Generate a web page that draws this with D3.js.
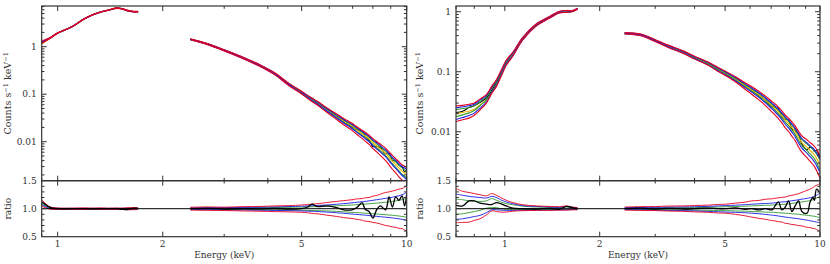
<!DOCTYPE html>
<html>
<head>
<meta charset="utf-8">
<script src="https://cdn.jsdelivr.net/npm/d3@7"></script>
<style>
  body { margin: 0; background: #fff; }
  svg { display: block; font-family: "DejaVu Serif", serif; }
</style>
</head>
<body>
<svg id="chart" width="830" height="264"></svg>
<script>
// ---------------- data ----------------
var xMajor = [1, 2, 5, 10];
var ratioLabels = [0.5, 1.0, 1.5];

// left panel, low energy band
var leftLoE       = [0.9, 0.92, 0.94, 0.96, 1.0, 1.1, 1.19, 1.26, 1.33, 1.4, 1.48, 1.53, 1.58, 1.65, 1.7];
var leftLoModel   = [1.12, 1.27, 1.42, 1.58, 1.94, 2.64, 3.83, 4.7, 5.38, 5.9, 6.5, 6.3, 5.8, 5.46, 5.46];
var leftLoRatio   = [1.12, 1.08, 1.04, 1.015, 1.0, 1.0, 1.0, 0.998, 1.0, 1.002, 1.0, 0.99, 0.985, 1.01, 1.005];
var leftLoRedUp   = [1.16, 1.1, 1.05, 1.025, 1.012, 1.01, 1.014, 1.01, 1.013, 1.009, 1.012, 1.01, 1.016, 1.02, 1.015];
var leftLoBlueUp  = [1.13, 1.08, 1.04, 1.018, 1.008, 1.006, 1.007, 1.006, 1.007, 1.006, 1.007, 1.006, 1.008, 1.01, 1.01];
var leftLoGreenUp = [1.11, 1.07, 1.035, 1.012, 1.005, 1.004, 1.004, 1.004, 1.004, 1.004, 1.004, 1.004, 1.005, 1.006, 1.006];
var leftLoGreenLo = [1.09, 1.05, 1.02, 1.0, 0.995, 0.996, 0.996, 0.996, 0.996, 0.996, 0.996, 0.996, 0.995, 0.994, 0.994];
var leftLoBlueLo  = [1.07, 1.04, 1.01, 0.995, 0.992, 0.994, 0.993, 0.994, 0.993, 0.994, 0.993, 0.994, 0.992, 0.99, 0.99];
var leftLoRedLo   = [1.05, 1.02, 1.0, 0.99, 0.988, 0.99, 0.987, 0.991, 0.988, 0.99, 0.987, 0.99, 0.982, 0.982, 0.985];

// left panel, high energy band
var leftHiE       = [2.4, 2.7, 3.0, 3.4, 3.8, 4.2, 4.6, 5.0, 5.2, 5.36, 5.53, 5.9, 6.3, 6.6, 6.97, 7.2, 7.45, 7.6, 7.8, 8.0, 8.2, 8.4, 8.7, 8.9, 9.1, 9.3, 9.5, 9.7, 9.86, 10];
var leftHiModel   = [1.43, 1.12, 0.84, 0.58, 0.40, 0.266, 0.16, 0.108, 0.088, 0.076, 0.066, 0.047, 0.034, 0.027, 0.021, 0.0175, 0.0148, 0.0132, 0.0114, 0.0095, 0.0082, 0.0071, 0.0057, 0.0047, 0.0039, 0.0033, 0.0028, 0.0024, 0.0022, 0.0020];
var leftHiRatio   = [1.0, 1.005, 0.995, 1.003, 0.996, 1.004, 0.995, 1.0, 1.03, 1.08, 1.04, 1.05, 1.02, 0.98, 0.98, 1.02, 1.11, 0.99, 0.95, 0.83, 0.98, 1.05, 0.98, 1.21, 1.03, 1.21, 1.15, 1.23, 1.05, 1.27];
var leftHiRedUp   = [1.025, 1.032, 1.027, 1.037, 1.04, 1.05, 1.055, 1.066, 1.075, 1.082, 1.088, 1.11, 1.13, 1.145, 1.16, 1.175, 1.18, 1.195, 1.2, 1.225, 1.235, 1.26, 1.29, 1.3, 1.315, 1.33, 1.35, 1.36, 1.385, 1.42];
var leftHiBlueUp  = [1.015, 1.018, 1.02, 1.023, 1.027, 1.032, 1.038, 1.045, 1.05, 1.054, 1.058, 1.067, 1.08, 1.09, 1.105, 1.115, 1.125, 1.13, 1.14, 1.15, 1.16, 1.17, 1.185, 1.195, 1.205, 1.22, 1.23, 1.25, 1.27, 1.30];
var leftHiGreenUp = [1.01, 1.011, 1.012, 1.015, 1.018, 1.021, 1.025, 1.03, 1.033, 1.035, 1.038, 1.044, 1.052, 1.058, 1.066, 1.072, 1.078, 1.082, 1.088, 1.095, 1.1, 1.106, 1.115, 1.122, 1.13, 1.14, 1.15, 1.16, 1.175, 1.19];
var leftHiGreenLo = [0.99, 0.989, 0.988, 0.985, 0.982, 0.979, 0.976, 0.972, 0.97, 0.968, 0.965, 0.96, 0.952, 0.945, 0.935, 0.93, 0.924, 0.92, 0.915, 0.91, 0.905, 0.9, 0.893, 0.888, 0.882, 0.876, 0.87, 0.862, 0.855, 0.845];
var leftHiBlueLo  = [0.985, 0.983, 0.98, 0.977, 0.973, 0.969, 0.965, 0.96, 0.956, 0.953, 0.95, 0.94, 0.928, 0.918, 0.905, 0.897, 0.89, 0.885, 0.877, 0.87, 0.863, 0.857, 0.848, 0.842, 0.835, 0.828, 0.82, 0.81, 0.8, 0.79];
var leftHiRedLo   = [0.975, 0.97, 0.968, 0.96, 0.955, 0.948, 0.943, 0.935, 0.928, 0.915, 0.91, 0.885, 0.862, 0.842, 0.825, 0.81, 0.795, 0.778, 0.772, 0.755, 0.745, 0.728, 0.7, 0.69, 0.675, 0.668, 0.65, 0.645, 0.62, 0.6];

// right panel, low energy band
var rightLoE       = [0.7, 0.735, 0.77, 0.8, 0.834, 0.875, 0.908, 0.941, 0.97, 1.01, 1.06, 1.14, 1.26, 1.39, 1.49, 1.57, 1.64, 1.7];
var rightLoModel   = [0.0198, 0.021, 0.0222, 0.0238, 0.028, 0.034, 0.045, 0.06, 0.085, 0.135, 0.19, 0.35, 0.60, 0.81, 0.98, 1.0, 1.02, 1.12];
var rightLoRatio   = [1.06, 1.05, 1.14, 1.14, 1.1, 1.08, 1.075, 1.11, 1.09, 1.05, 1.01, 1.0, 0.995, 1.005, 0.99, 1.04, 1.02, 1.0];
var rightLoRedUp   = [1.36, 1.31, 1.29, 1.27, 1.25, 1.23, 1.27, 1.24, 1.2, 1.15, 1.11, 1.07, 1.05, 1.04, 1.035, 1.05, 1.03, 1.02];
var rightLoBlueUp  = [1.26, 1.24, 1.22, 1.21, 1.2, 1.19, 1.22, 1.2, 1.16, 1.12, 1.09, 1.055, 1.04, 1.03, 1.025, 1.04, 1.02, 1.015];
var rightLoGreenUp = [1.17, 1.16, 1.14, 1.135, 1.13, 1.14, 1.18, 1.15, 1.12, 1.09, 1.07, 1.045, 1.03, 1.025, 1.02, 1.03, 1.015, 1.01];
var rightLoGreenLo = [0.9, 0.91, 0.93, 0.95, 0.97, 1.01, 1.02, 1.02, 1.0, 0.99, 0.985, 0.985, 0.985, 0.985, 0.99, 0.99, 0.99, 0.99];
var rightLoBlueLo  = [0.81, 0.82, 0.84, 0.86, 0.88, 0.93, 0.98, 0.98, 0.975, 0.97, 0.97, 0.975, 0.975, 0.975, 0.98, 0.98, 0.985, 0.985];
var rightLoRedLo   = [0.75, 0.755, 0.76, 0.79, 0.82, 0.89, 0.96, 0.95, 0.94, 0.94, 0.955, 0.965, 0.97, 0.97, 0.975, 0.975, 0.98, 0.98];

// right panel, high energy band
var rightHiE       = [2.4, 2.7, 3.0, 3.3, 3.7, 4.0, 4.4, 4.77, 5.0, 5.4, 5.8, 6.07, 6.4, 6.7, 7.05, 7.2, 7.38, 7.57, 7.76, 7.95, 8.14, 8.34, 8.55, 8.76, 9.1, 9.3, 9.5, 9.6, 9.75, 10];
var rightHiModel   = [0.436, 0.41, 0.33, 0.265, 0.21, 0.172, 0.138, 0.108, 0.095, 0.075, 0.058, 0.0497, 0.041, 0.034, 0.027, 0.0245, 0.0215, 0.0185, 0.0157, 0.0138, 0.0118, 0.0100, 0.0080, 0.0066, 0.0055, 0.0049, 0.0044, 0.0041, 0.0036, 0.0028];
var rightHiRatio   = [1.0, 1.01, 0.995, 1.005, 0.995, 1.0, 1.01, 1.0, 1.0, 1.015, 0.99, 1.0, 0.98, 1.0, 0.98, 1.05, 1.12, 0.98, 1.03, 1.14, 0.95, 1.05, 1.14, 0.95, 0.92, 1.12, 1.2, 1.15, 1.35, 1.28];
var rightHiRedUp   = [1.03, 1.037, 1.038, 1.047, 1.05, 1.057, 1.063, 1.077, 1.08, 1.1, 1.118, 1.14, 1.148, 1.168, 1.178, 1.187, 1.193, 1.203, 1.208, 1.228, 1.238, 1.252, 1.268, 1.292, 1.328, 1.352, 1.378, 1.4, 1.418, 1.45];
var rightHiBlueUp  = [1.02, 1.022, 1.025, 1.028, 1.032, 1.035, 1.042, 1.05, 1.055, 1.063, 1.072, 1.08, 1.087, 1.093, 1.1, 1.105, 1.112, 1.12, 1.125, 1.133, 1.142, 1.15, 1.16, 1.17, 1.185, 1.195, 1.21, 1.22, 1.24, 1.28];
var rightHiGreenUp = [1.01, 1.012, 1.015, 1.017, 1.019, 1.02, 1.025, 1.031, 1.035, 1.04, 1.045, 1.05, 1.055, 1.06, 1.065, 1.068, 1.072, 1.076, 1.08, 1.087, 1.095, 1.103, 1.11, 1.12, 1.135, 1.145, 1.16, 1.17, 1.19, 1.22];
var rightHiGreenLo = [0.99, 0.988, 0.985, 0.982, 0.978, 0.975, 0.971, 0.967, 0.965, 0.96, 0.955, 0.95, 0.945, 0.94, 0.935, 0.932, 0.928, 0.924, 0.92, 0.915, 0.91, 0.905, 0.9, 0.893, 0.882, 0.875, 0.868, 0.864, 0.857, 0.84];
var rightHiBlueLo  = [0.985, 0.98, 0.975, 0.97, 0.965, 0.96, 0.952, 0.945, 0.94, 0.935, 0.927, 0.92, 0.91, 0.898, 0.885, 0.878, 0.87, 0.86, 0.85, 0.843, 0.835, 0.828, 0.82, 0.81, 0.795, 0.785, 0.775, 0.77, 0.762, 0.75];
var rightHiRedLo   = [0.975, 0.968, 0.966, 0.958, 0.953, 0.943, 0.936, 0.923, 0.92, 0.898, 0.872, 0.85, 0.828, 0.812, 0.788, 0.782, 0.768, 0.762, 0.738, 0.732, 0.718, 0.712, 0.698, 0.692, 0.668, 0.662, 0.648, 0.646, 0.628, 0.6];

// ---------------- layout / style ----------------
var svg = d3.select("#chart"),
	TOP_T = 6, TOP_B = 180.7, RAT_B = 236.7,
	FRAME = "#333", TXT = "#333";

var col = {red: "#e6001e", blue: "#1c1ce8", green: "#2f9a2f", yellow: "#f0b400", black: "#000"};

function seg(E, model, ratio, rU, bU, gU, gL, bL, rL) {
	return {E: E, model: model, ratio: ratio,
		env: [["green", gU], ["green", gL], ["blue", bU], ["blue", bL], ["red", rU], ["red", rL]]};
}

var panels = [
	{id: "L", x0: 41.7, x1: 406.7, xDomain: [0.9, 10], yDomain: [0.00151, 7.19],
		segs: [seg(leftLoE, leftLoModel, leftLoRatio, leftLoRedUp, leftLoBlueUp, leftLoGreenUp, leftLoGreenLo, leftLoBlueLo, leftLoRedLo),
			seg(leftHiE, leftHiModel, leftHiRatio, leftHiRedUp, leftHiBlueUp, leftHiGreenUp, leftHiGreenLo, leftHiBlueLo, leftHiRedLo)],
		labelX: 8},
	{id: "R", x0: 456, x1: 820, xDomain: [0.7, 10], yDomain: [0.00153, 1.245],
		segs: [seg(rightLoE, rightLoModel, rightLoRatio, rightLoRedUp, rightLoBlueUp, rightLoGreenUp, rightLoGreenLo, rightLoBlueLo, rightLoRedLo),
			seg(rightHiE, rightHiModel, rightHiRatio, rightHiRedUp, rightHiBlueUp, rightHiGreenUp, rightHiGreenLo, rightHiBlueLo, rightHiRedLo)],
		labelX: 420}
];

function isDecade(v) {
	var l = Math.log10(v);
	return Math.abs(l - Math.round(l)) < 1e-6;
}

function drawPanel(p) {
	var g = svg.append("g");
	var x = d3.scaleLog().domain(p.xDomain).range([p.x0, p.x1]),
		y = d3.scaleLog().domain(p.yDomain).range([TOP_B, TOP_T]),
		yr = d3.scaleLinear().domain([0.5, 1.5]).range([RAT_B, TOP_B]);

	var defs = g.append("defs");
	defs.append("clipPath").attr("id", "ct" + p.id).append("rect")
		.attr("x", p.x0).attr("y", TOP_T).attr("width", p.x1 - p.x0).attr("height", TOP_B - TOP_T);
	defs.append("clipPath").attr("id", "cr" + p.id).append("rect")
		.attr("x", p.x0).attr("y", TOP_B).attr("width", p.x1 - p.x0).attr("height", RAT_B - TOP_B);

	var smooth = d3.curveCatmullRom.alpha(0.5);

	//------------ top panel: spectra
	var gTop = g.append("g").attr("clip-path", "url(#ct" + p.id + ")").attr("fill", "none");
	var tline = d3.line().x(function(d) { return x(d[0]); }).y(function(d) { return y(d[1]); }).curve(smooth);
	p.segs.forEach(function(s) {
		var layers = [["black", s.ratio], ["yellow", null]].concat(s.env);
		layers.forEach(function(l) {
			var pts = s.E.map(function(e, i) { return [e, s.model[i] * (l[1] ? l[1][i] : 1)]; });
			gTop.append("path").attr("d", tline(pts))
				.attr("stroke", col[l[0]]).attr("stroke-width", 1.1).attr("stroke-linejoin", "round");
		});
	});

	//------------ ratio panel
	var gRat = g.append("g").attr("clip-path", "url(#cr" + p.id + ")").attr("fill", "none");
	var rline = d3.line().x(function(d) { return x(d[0]); }).y(function(d) { return yr(d[1]); }).curve(smooth);
	p.segs.forEach(function(s) {
		s.env.forEach(function(l) {
			gRat.append("path").attr("d", rline(s.E.map(function(e, i) { return [e, l[1][i]]; })))
				.attr("stroke", col[l[0]]).attr("stroke-width", 0.9);
		});
	});
	gRat.append("line").attr("x1", p.x0).attr("x2", p.x1).attr("y1", yr(1)).attr("y2", yr(1))
		.attr("stroke", "#000").attr("stroke-width", 1);
	p.segs.forEach(function(s) {
		gRat.append("path").attr("d", rline(s.E.map(function(e, i) { return [e, s.ratio[i]]; })))
			.attr("stroke", "#000").attr("stroke-width", 1.3).attr("stroke-linejoin", "round");
	});

	//------------ frames & ticks
	var gAx = g.append("g").attr("stroke", FRAME).attr("fill", "none");
	gAx.append("rect").attr("x", p.x0).attr("y", TOP_T).attr("width", p.x1 - p.x0).attr("height", TOP_B - TOP_T).attr("stroke-width", 1.2);
	gAx.append("rect").attr("x", p.x0).attr("y", TOP_B).attr("width", p.x1 - p.x0).attr("height", RAT_B - TOP_B).attr("stroke-width", 1.2);

	var xt = x.ticks();
	[[TOP_T, 1], [TOP_B, -1], [TOP_B, 1], [RAT_B, -1]].forEach(function(e) {
		xt.forEach(function(t) {
			var len = xMajor.indexOf(t) >= 0 ? 5 : 2.8;
			gAx.append("line").attr("x1", x(t)).attr("x2", x(t))
				.attr("y1", e[0]).attr("y2", e[0] + e[1] * len).attr("stroke-width", 1);
		});
	});

	var yt = y.ticks();
	[[p.x0, 1], [p.x1, -1]].forEach(function(e) {
		yt.forEach(function(t) {
			var len = isDecade(t) ? 5 : 2.8;
			gAx.append("line").attr("y1", y(t)).attr("y2", y(t))
				.attr("x1", e[0]).attr("x2", e[0] + e[1] * len).attr("stroke-width", 1);
		});
		d3.range(0.6, 1.45, 0.1).forEach(function(t) {
			var len = Math.abs(t - 1) < 1e-6 ? 5 : 2.8;
			gAx.append("line").attr("y1", yr(t)).attr("y2", yr(t))
				.attr("x1", e[0]).attr("x2", e[0] + e[1] * len).attr("stroke-width", 1);
		});
	});

	//------------ tick labels
	var gTx = g.append("g").attr("fill", TXT).attr("font-size", 9);
	xMajor.forEach(function(t) {
		gTx.append("text").attr("x", x(t)).attr("y", 246.5).attr("text-anchor", "middle").text(t);
	});
	yt.filter(isDecade).forEach(function(t) {
		gTx.append("text").attr("x", p.x0 - 5).attr("y", y(t)).attr("dy", "0.35em")
			.attr("text-anchor", "end").text(t >= 1 ? "1" : d3.format("." + Math.round(-Math.log10(t)) + "f")(t));
	});
	ratioLabels.forEach(function(t) {
		gTx.append("text").attr("x", p.x0 - 5).attr("y", yr(t)).attr("dy", "0.35em")
			.attr("text-anchor", "end").text(d3.format(".1f")(t));
	});

	//------------ axis titles
	gTx.append("text").attr("x", (p.x0 + p.x1) / 2).attr("y", 258).attr("text-anchor", "middle").text("Energy (keV)");
	var yl = gTx.append("text").attr("text-anchor", "middle").attr("font-size", 9.5)
		.attr("transform", "translate(" + (p.labelX + 3) + "," + ((TOP_T + TOP_B) / 2) + ") rotate(-90)");
	yl.append("tspan").text("Counts s");
	yl.append("tspan").attr("dy", -3.5).attr("font-size", 6.5).text("\u22121");
	yl.append("tspan").attr("dy", 3.5).text(" keV");
	yl.append("tspan").attr("dy", -3.5).attr("font-size", 6.5).text("\u22121");
	gTx.append("text").attr("text-anchor", "middle")
		.attr("transform", "translate(" + (p.labelX + 3) + "," + ((TOP_B + RAT_B) / 2) + ") rotate(-90)")
		.text("ratio");
}

panels.forEach(drawPanel);
</script>
</body>
</html>
